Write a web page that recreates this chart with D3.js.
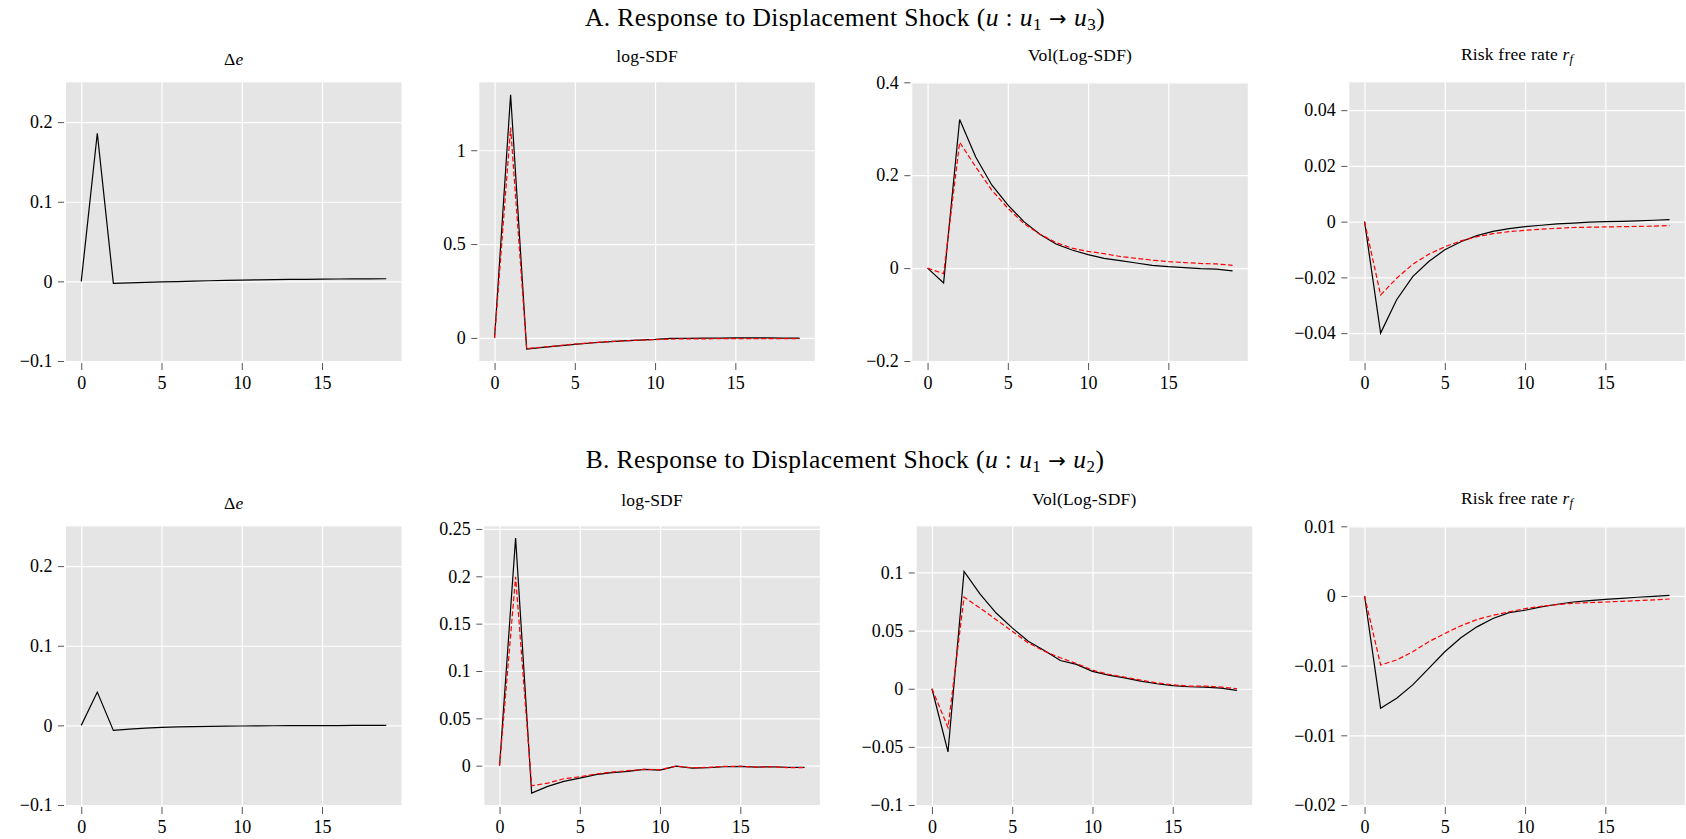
<!DOCTYPE html>
<html>
<head>
<meta charset="utf-8" />
<title>Response to Displacement Shock</title>
<script src="https://d3js.org/d3.v7.min.js"></script>
<style>
    body { margin: 0; background: #fff; }
    svg text { font-family: "Liberation Serif", serif; fill: #000; }
    .grid line { stroke: #fff; stroke-width: 1.2; }
    .grid path, .ticks path { display: none; }
    .ticks line { stroke: #555; }
    .ticks text { font-size: 18px; font-family: "Liberation Serif", serif; }
    .title { font-size: 25.5px; letter-spacing: 0.4px; }
    .subtitle { font-size: 17.5px; letter-spacing: 0.2px; }
</style>
</head>
<body>
<svg id="chart" width="1686" height="839"></svg>
<script>
    // horizons on the x axis
    var horizons = [0, 1, 2, 3, 4, 5, 6, 7, 8, 9, 10, 11, 12, 13, 14, 15, 16, 17, 18, 19];
    var xTicks = [0, 5, 10, 15];

    // row A: u1 -> u3
    var aDeltaE = [0, 0.186, -0.0025, -0.0019, -0.0013, -0.0007, -0.0002, 0.0003, 0.0008, 0.0012,
        0.0016, 0.0019, 0.0022, 0.0024, 0.0026, 0.0028, 0.0030, 0.0031, 0.0032, 0.0033];
    var aLogSdf = [0, 1.296, -0.059, -0.050, -0.042, -0.034, -0.027, -0.021, -0.016, -0.012,
        -0.008, -0.002, -0.002, -0.001, -0.001, 0, 0, 0, -0.001, -0.001];
    var aLogSdfAlt = [0, 1.121, -0.057, -0.049, -0.041, -0.033, -0.026, -0.020, -0.016, -0.012,
        -0.009, -0.006, -0.005, -0.005, -0.004, -0.004, -0.004, -0.004, -0.004, -0.004];
    var aVol = [0, -0.032, 0.320, 0.239, 0.179, 0.136, 0.100, 0.073, 0.052, 0.039,
        0.029, 0.021, 0.016, 0.011, 0.006, 0.003, 0.001, -0.001, -0.002, -0.006];
    var aVolAlt = [0, -0.012, 0.271, 0.218, 0.168, 0.129, 0.096, 0.073, 0.055, 0.043,
        0.036, 0.031, 0.025, 0.021, 0.017, 0.014, 0.012, 0.010, 0.009, 0.006];
    var aRf = [0, -0.0400, -0.0280, -0.0197, -0.0143, -0.0101, -0.0072, -0.0050, -0.0035, -0.0025,
        -0.0018, -0.0013, -0.0008, -0.0005, -0.0002, 0, 0.0001, 0.0003, 0.0005, 0.0007];
    var aRfAlt = [0, -0.0263, -0.0203, -0.0153, -0.0117, -0.0090, -0.0069, -0.0054, -0.0043, -0.0036,
        -0.0031, -0.0027, -0.0024, -0.0021, -0.0020, -0.0019, -0.0018, -0.0017, -0.0016, -0.0014];

    // row B: u1 -> u2
    var bDeltaE = [0, 0.0418, -0.0063, -0.0046, -0.0034, -0.0026, -0.0020, -0.0016, -0.0012, -0.0010,
        -0.0008, -0.0006, -0.0005, -0.0004, -0.0003, -0.0002, -0.0002, -0.0001, -0.0001, 0];
    var bLogSdf = [0, 0.2405, -0.0290, -0.0219, -0.0166, -0.0131, -0.0095, -0.0074, -0.0060, -0.0039,
        -0.0046, -0.0004, -0.0025, -0.0021, -0.0011, -0.0007, -0.0014, -0.0011, -0.0018, -0.0018];
    var bLogSdfAlt = [0, 0.1995, -0.0212, -0.0184, -0.0138, -0.0117, -0.0088, -0.0067, -0.0053, -0.0039,
        -0.0042, -0.0004, -0.0021, -0.0018, -0.0007, -0.0007, -0.0014, -0.0011, -0.0021, -0.0021];
    var bVol = [0, -0.0543, 0.1009, 0.0814, 0.0651, 0.0523, 0.0409, 0.0329, 0.0243, 0.0209,
        0.0149, 0.0117, 0.0094, 0.0066, 0.0043, 0.0026, 0.0017, 0.0014, 0.0006, -0.0014];
    var bVolAlt = [0, -0.0334, 0.0789, 0.0694, 0.0594, 0.0494, 0.0394, 0.0323, 0.0266, 0.0217,
        0.0160, 0.0123, 0.0100, 0.0074, 0.0051, 0.0034, 0.0023, 0.0023, 0.0014, 0];
    var bRf = [0, -0.00966, -0.0088, -0.00766, -0.00623, -0.0048, -0.0036, -0.00266, -0.00194, -0.00143,
        -0.00123, -0.00094, -0.00071, -0.00052, -0.0004, -0.00029, -0.0002, -0.00011, -0.00003, 0.00006];
    var bRfAlt = [0, -0.00594, -0.00551, -0.0048, -0.00394, -0.00323, -0.00257, -0.00203, -0.00166, -0.00137,
        -0.00109, -0.00089, -0.00074, -0.00063, -0.00057, -0.00052, -0.00046, -0.0004, -0.00034, -0.00026];

    // axis limits and ticks, row by row
    var yLimits = [
        [[-0.1, 0.25], [-0.123, 1.362], [-0.2, 0.4], [-0.05, 0.05]],
        [[-0.1, 0.25], [-0.0415, 0.2528], [-0.1, 0.1397], [-0.018, 0.006]]
    ];
    var yTicks = [
        [[-0.1, 0, 0.1, 0.2], [0, 0.5, 1], [-0.2, 0, 0.2, 0.4], [-0.04, -0.02, 0, 0.02, 0.04]],
        [[-0.1, 0, 0.1, 0.2], [0, 0.05, 0.1, 0.15, 0.2, 0.25], [-0.1, -0.05, 0, 0.05, 0.1], [-0.018, -0.012, -0.006, 0, 0.006]]
    ];

    var series = [
        [[aDeltaE], [aLogSdf, aLogSdfAlt], [aVol, aVolAlt], [aRf, aRfAlt]],
        [[bDeltaE], [bLogSdf, bLogSdfAlt], [bVol, bVolAlt], [bRf, bRfAlt]]
    ];
    var rowLetters = ["A", "B"];
    var rowTargets = ["3", "2"];

    // layout
    var panelW = 335.5, panelH = 278.7;
    var rowTop = [82.3, 526.3];
    var panelLeft = [[66, 479.3, 912.3, 1349.3], [66, 484.3, 916.7, 1349.3]];
    var titleBase = [26, 468.3];
    var subBase = [65, 61.5, 61, 60];
    var serif = "'Liberation Serif', serif";

    var svg = d3.select("#chart");
    var x = d3.scaleLinear().domain([-0.95, 19.95]).range([0, panelW]);
    var fmt = d3.format(".2~f");

    function rowTitle(r) {
        var t = svg.append("text").attr("class", "title")
            .attr("x", 845).attr("y", titleBase[r]).attr("text-anchor", "middle");
        t.append("tspan").text(rowLetters[r] + ". Response to Displacement Shock (");
        t.append("tspan").attr("font-style", "italic").text("u");
        t.append("tspan").text(" : ");
        t.append("tspan").attr("font-style", "italic").text("u");
        t.append("tspan").attr("font-size", "17px").attr("baseline-shift", "-4px").text("1");
        t.append("tspan").attr("font-family", "'DejaVu Sans', sans-serif").attr("font-size", "21px")
            .text(" \u2192 ");
        t.append("tspan").attr("font-style", "italic").text("u");
        t.append("tspan").attr("font-size", "17px").attr("baseline-shift", "-4px").text(rowTargets[r]);
        t.append("tspan").text(")");
    }

    function panelTitle(g, c, dy) {
        var t = g.append("text").attr("class", "subtitle")
            .attr("x", panelW / 2).attr("y", dy).attr("text-anchor", "middle");
        if (c == 0) {
            t.append("tspan").text("\u0394");
            t.append("tspan").attr("font-style", "italic").text("e");
        } else if (c == 1) {
            t.text("log-SDF");
        } else if (c == 2) {
            t.text("Vol(Log-SDF)");
        } else {
            t.append("tspan").text("Risk free rate ");
            t.append("tspan").attr("font-style", "italic").text("r");
            t.append("tspan").attr("font-style", "italic").attr("font-size", "12.5px")
                .attr("baseline-shift", "-3px").text("f");
        }
    }

    for (var r = 0; r < 2; r++) {
        rowTitle(r);
        for (var c = 0; c < 4; c++) {
            var panelTop = rowTop[r];
            var g = svg.append("g")
                .attr("transform", "translate(" + panelLeft[r][c] + "," + panelTop + ")");
            var y = d3.scaleLinear().domain(yLimits[r][c]).range([panelH, 0]);

            panelTitle(g, c, subBase[c] + (r == 0 ? 0 : 444) - panelTop);

            g.append("rect").attr("width", panelW).attr("height", panelH).attr("fill", "#e5e5e5");

            g.append("g").attr("class", "grid")
                .call(d3.axisLeft(y).tickValues(yTicks[r][c]).tickSize(-panelW).tickFormat(""));
            g.append("g").attr("class", "grid")
                .attr("transform", "translate(0," + panelH + ")")
                .call(d3.axisBottom(x).tickValues(xTicks).tickSize(-panelH).tickFormat(""));

            g.append("g").attr("class", "ticks")
                .attr("transform", "translate(-2,0)")
                .call(d3.axisLeft(y).tickValues(yTicks[r][c]).tickSize(6).tickPadding(5.5).tickFormat(fmt))
                .attr("font-family", serif).attr("font-size", 18);
            g.append("g").attr("class", "ticks")
                .attr("transform", "translate(0," + (panelH + 2) + ")")
                .call(d3.axisBottom(x).tickValues(xTicks).tickSize(7).tickPadding(6).tickFormat(d3.format("d")))
                .attr("font-family", serif).attr("font-size", 18);

            var line = d3.line()
                .x(function(d, i) { return x(horizons[i]); })
                .y(function(d) { return y(d); });

            series[r][c].forEach(function(vals, k) {
                g.append("path")
                    .datum(vals)
                    .attr("d", line)
                    .attr("fill", "none")
                    .attr("stroke", k == 0 ? "#000" : "#ff0000")
                    .attr("stroke-width", 1.2)
                    .attr("stroke-dasharray", k == 0 ? null : "5,2.5");
            });
        }
    }
</script>
</body>
</html>
